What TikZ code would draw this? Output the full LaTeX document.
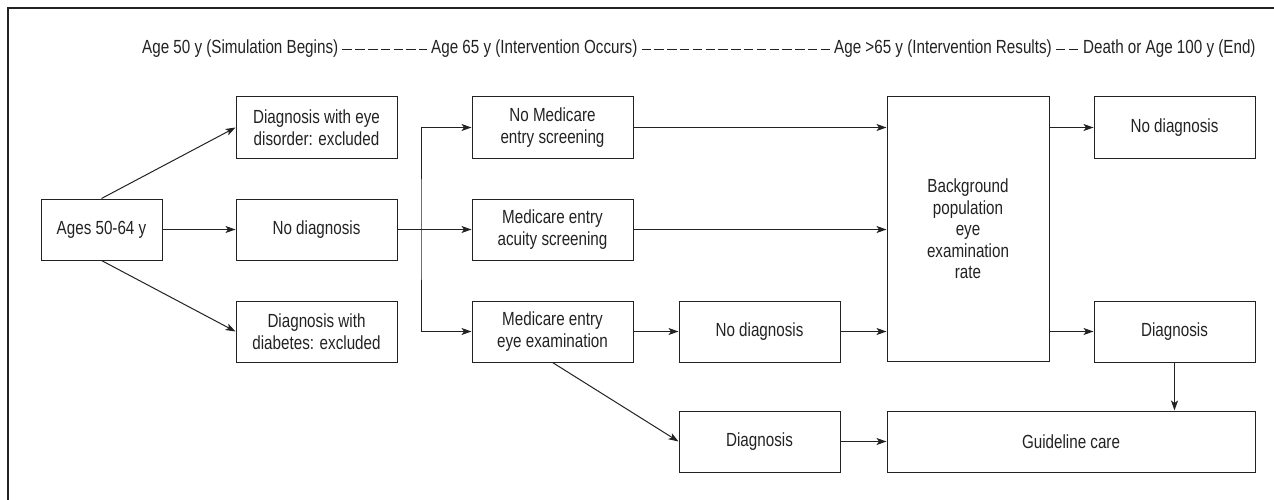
\documentclass[tikz,border=0pt]{standalone}
\usepackage{fontspec}
\setmainfont{Liberation Sans}[FakeStretch=0.8]
\usetikzlibrary{arrows.meta}

\definecolor{ink}{HTML}{222222}

\tikzset{
  stage/.style={draw=ink, line width=1pt, minimum width=161pt, minimum height=61pt,
    align=center, inner sep=2pt, text=ink, font=\fontsize{19}{21.5}\selectfont},
  flow/.style={draw=ink, line width=1pt, -{Stealth[length=10pt,width=7pt,inset=2.5pt]}},
  era/.style={anchor=base west, inner sep=4pt, text=ink, font=\fontsize{19}{21.5}\selectfont},
  eradash/.style={draw=ink, line width=1pt, dash pattern=on 9.5pt off 3.3pt}
}

\begin{document}
\begin{tikzpicture}[x=1pt,y=-1pt]
\useasboundingbox (0,0) rectangle (1274,500);

% Frame
\draw[ink, line width=1.2pt] (8,500)--(8,8)--(1274,8);

% Time line
\node[era] (age50) at (138,54) {Age 50 y (Simulation Begins)};
\node[era] (age65) at (427,54) {Age 65 y (Intervention Occurs)};
\node[era] (age66) at (830,54) {Age >65 y (Intervention Results)};
\node[era] (age100) at (1079,54) {Death or Age 100 y (End)};
\draw[eradash] (age50)--(age65);
\draw[eradash] (age65)--(age66);
\draw[eradash] (age66)--(age100);

% Before Medicare
\node[stage, minimum width=121pt] (ages) at (101.5,229.5) {Ages 50-64 y};
\node[stage] (eyedis) at (316.5,127.5) {Diagnosis with eye\\disorder: excluded};
\node[stage] (nodiag) at (316.5,229.5) {No diagnosis};
\node[stage] (diabetes) at (316.5,331.5) {Diagnosis with\\diabetes: excluded};

% Medicare entry
\node[stage] (noscreen) at (552.5,127.5) {No Medicare\\entry screening};
\node[stage] (acuity) at (552.5,229.5) {Medicare entry\\acuity screening};
\node[stage] (exam) at (552.5,331.5) {Medicare entry\\eye examination};
\node[stage] (examneg) at (759.5,331.5) {No diagnosis};
\node[stage] (exampos) at (759.5,441.5) {Diagnosis};

% After Medicare entry
\node[stage, minimum width=162pt, minimum height=264pt] (backg) at (968,229)
  {Background\\population\\eye\\examination\\rate};
\node[stage] (endneg) at (1174.5,127.5) {No diagnosis};
\node[stage] (endpos) at (1174.5,331.5) {Diagnosis};
\node[stage, minimum width=368pt] (care) at (1071,441.5) {Guideline care};

\coordinate (fork) at (421,229.5);

\draw[flow] (ages.north)--(eyedis.west);
\draw[flow] (ages.east)--(nodiag.west);
\draw[flow] (ages.south)--(diabetes.west);
\draw[flow] (nodiag.east)--(acuity.west);
\draw[flow, {Stealth[length=10pt,width=7pt,inset=2.5pt]}-{Stealth[length=10pt,width=7pt,inset=2.5pt]}]
  (noscreen.west)-|(fork)|-(exam.west);

\draw[flow] (noscreen.east)--(noscreen.east-|backg.west);
\draw[flow] (acuity.east)--(acuity.east-|backg.west);
\draw[flow] (exam.east)--(examneg.west);
\draw[flow] (examneg.east)--(examneg.east-|backg.west);
\draw[flow] (exam.south)--(exampos.west);
\draw[flow] (exampos.east)--(care.west);

\draw[flow] (backg.east|-endneg.west)--(endneg.west);
\draw[flow] (backg.east|-endpos.west)--(endpos.west);
\draw[flow] (endpos.south)--(endpos.south|-care.north);

\end{tikzpicture}
\end{document}
